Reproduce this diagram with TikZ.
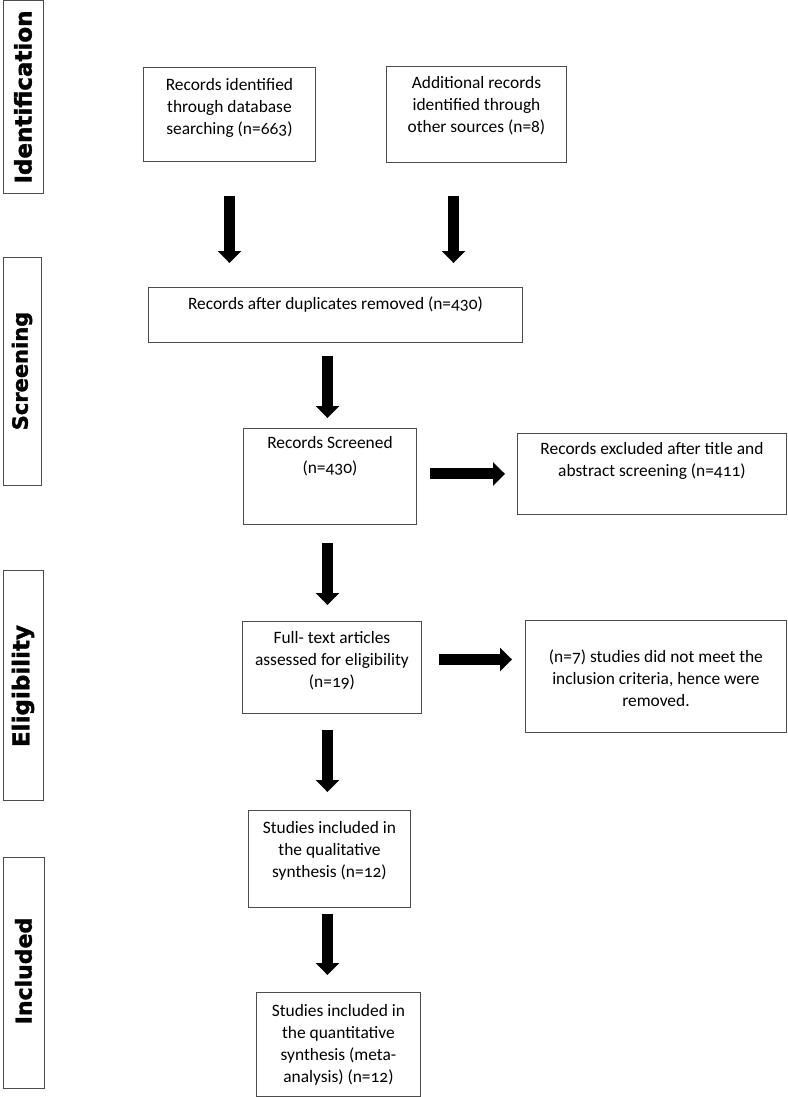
\documentclass[tikz,border=0pt]{standalone}
\usepackage{fontspec}
\setmainfont{Carlito}[Numbers=OldStyle]
\newfontfamily\sidefont{DejaVu Sans}[BoldFeatures={FakeBold=1.5}]
\usetikzlibrary{arrows.meta,calc}
\tikzset{
  box/.style={draw=black!70, line width=0.9pt, anchor=north west, inner sep=0pt},
  txt/.style={anchor=north, align=center, inner sep=0pt, font=\fontsize{17.4}{22}\selectfont},
  sidetxt/.style={rotate=90, inner sep=0pt, font=\sidefont\bfseries\fontsize{#1}{24}\selectfont},
  barrow/.style={line width=11pt, -{Triangle[length=12pt,width=23pt]}},
}
\begin{document}
\begin{tikzpicture}[x=1pt,y=-1pt]
\useasboundingbox[fill=white] (0,0) rectangle (787,1097);
% side labels
\node[box, minimum width=40pt, minimum height=193pt] (s1) at (3,0) {};
\node[sidetxt=23] (s1t) at (23,97) {Identification};
\node[box, minimum width=38pt, minimum height=228pt] (s2) at (3,257) {};
\node[sidetxt=21] (s2t) at (22,371) {Screening};
\node[box, minimum width=40pt, minimum height=230pt] (s3) at (3,570) {};
\node[sidetxt=23] (s3t) at (23,686) {Eligibility};
\node[box, minimum width=41pt, minimum height=231pt] (s4) at (3,857) {};
\node[sidetxt=22] (s4t) at (23.5,971) {Included};
% main boxes
\node[box, minimum width=172pt, minimum height=94pt] (b1) at (143,67) {};
\node[txt] (t1) at ([yshift=-11pt]b1.north) {Records identified\\through database\\searching (n=663)};
\node[box, minimum width=180pt, minimum height=96pt] (b2) at (386,66) {};
\node[txt] (t2) at ([yshift=-10pt]b2.north) {Additional records\\identified through\\other sources (n=8)};
\node[box, minimum width=374pt, minimum height=55pt] (b3) at (148,287) {};
\node[txt] (t3) at ([yshift=-10pt]b3.north) {Records after duplicates removed (n=430)};
\node[box, minimum width=173pt, minimum height=96pt] (b4) at (243,428) {};
\node[txt] (t4) at ([yshift=-8pt]b4.north) {Records Screened\\[3pt](n=430)};
\node[box, minimum width=269pt, minimum height=81pt] (b5) at (517,433) {};
\node[txt] (t5) at ([yshift=-9pt]b5.north) {Records excluded after title and\\abstract screening (n=411)};
\node[box, minimum width=179pt, minimum height=92pt] (b6) at (242,621) {};
\node[txt] (t6) at ([yshift=-10pt]b6.north) {Full- text articles\\assessed for eligibility\\(n=19)};
\node[box, minimum width=261pt, minimum height=112pt] (b7) at (525,620) {};
\node[txt] (t7) at ([yshift=-30pt]b7.north) {(n=7) studies did not meet the\\inclusion criteria, hence were\\removed.};
\node[box, minimum width=162pt, minimum height=97pt] (b8) at (248,810) {};
\node[txt] (t8) at ([yshift=-11pt]b8.north) {Studies included in\\the qualitative\\synthesis (n=12)};
\node[box, minimum width=164pt, minimum height=104pt] (b9) at (256,992) {};
\node[txt] (t9) at ([yshift=-12pt]b9.north) {Studies included in\\the quantitative\\synthesis (meta-\\analysis) (n=12)};
% arrows
\coordinate (a6s) at ([yshift=8pt]b6.east);
\coordinate (a3s) at ([xshift=-2.5pt]b4.north |- b3.south);
\coordinate (a5s) at ([xshift=-2.5pt]b4.south);
\draw[barrow, shorten <=34pt, shorten >=24pt] (b1.south) -- (b1.south |- b3.north);
\draw[barrow, shorten <=33pt, shorten >=24pt] ([xshift=-23pt]b2.south) -- ([xshift=-23pt]b2.south |- b3.north);
\draw[barrow, shorten <=13pt, shorten >=10pt] (a3s) -- (a3s |- b4.north);
\draw[barrow, shorten <=13pt, shorten >=12pt] (b4.east |- b5.west) -- (b5.west);
\draw[barrow, shorten <=18pt, shorten >=16pt] (a5s) -- (a5s |- b6.north);
\draw[barrow, shorten <=17pt, shorten >=13pt] (a6s) -- (b7.west |- a6s);
\draw[barrow, shorten <=16pt, shorten >=18pt] ([xshift=-2pt]b8.north |- b6.south) -- ([xshift=-2pt]b8.north);
\draw[barrow, shorten <=6pt, shorten >=17pt] ([xshift=-2pt]b8.south) -- ([xshift=-2pt]b8.south |- b9.north);
\end{tikzpicture}
\end{document}
